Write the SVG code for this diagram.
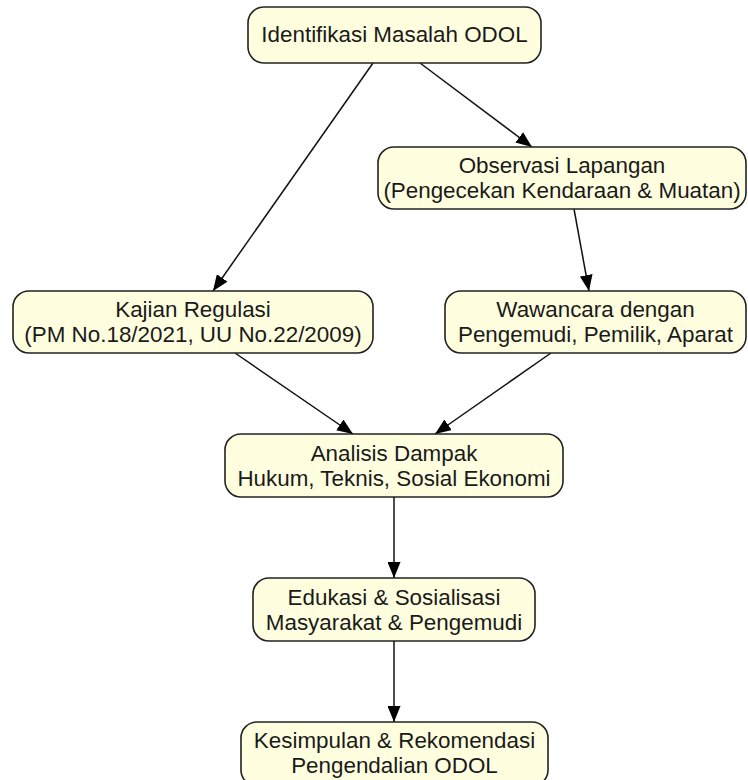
<svg xmlns="http://www.w3.org/2000/svg" width="748" height="780" viewBox="0 0 748 780">
<style>
.node rect{fill:#ffffe0;stroke:#222;stroke-width:1.6}
.node text{font-family:"Liberation Sans",Arial,sans-serif;font-size:22.4px;fill:#1a1a1a;text-anchor:middle}
.edges path{fill:none;stroke:#111;stroke-width:1.5}
</style>
<defs>
<marker id="arr" markerUnits="userSpaceOnUse" markerWidth="16" markerHeight="13" refX="16" refY="6.5" orient="auto">
<path d="M0,0 L16,6.5 L0,13 z" fill="#000"/>
</marker>
</defs>
<rect width="748" height="780" fill="#fff"/>
<g class="edges">
<path d="M373,63 L213,291" marker-end="url(#arr)"/>
<path d="M420,63 L532,147" marker-end="url(#arr)"/>
<path d="M574,209 L589,291" marker-end="url(#arr)"/>
<path d="M235,353 L353,434" marker-end="url(#arr)"/>
<path d="M551,353 L435,434" marker-end="url(#arr)"/>
<path d="M394,497 L394,578" marker-end="url(#arr)"/>
<path d="M394,641 L394,722" marker-end="url(#arr)"/>
</g>
<g id="n1" class="node"><rect x="248" y="7" width="293" height="56" rx="16"/><text x="394.5" y="42">Identifikasi Masalah ODOL</text></g>
<g id="n2" class="node"><rect x="378" y="147" width="368" height="62" rx="16"/><text x="562" y="173">Observasi Lapangan</text><text x="562" y="198">(Pengecekan Kendaraan &amp; Muatan)</text></g>
<g id="n3" class="node"><rect x="13" y="291" width="360" height="62" rx="16"/><text x="193" y="317">Kajian Regulasi</text><text x="193" y="342">(PM No.18/2021, UU No.22/2009)</text></g>
<g id="n4" class="node"><rect x="445" y="291" width="301" height="62" rx="16"/><text x="595.5" y="317">Wawancara dengan</text><text x="595.5" y="342">Pengemudi, Pemilik, Aparat</text></g>
<g id="n5" class="node"><rect x="225" y="434" width="338" height="63" rx="16"/><text x="394" y="460.5">Analisis Dampak</text><text x="394" y="485.5">Hukum, Teknis, Sosial Ekonomi</text></g>
<g id="n6" class="node"><rect x="253" y="578" width="282" height="63" rx="16"/><text x="394" y="604.5">Edukasi &amp; Sosialisasi</text><text x="394" y="629.5">Masyarakat &amp; Pengemudi</text></g>
<g id="n7" class="node"><rect x="241" y="722" width="307" height="64" rx="16"/><text x="394.5" y="748">Kesimpulan &amp; Rekomendasi</text><text x="394.5" y="773">Pengendalian ODOL</text></g>
</svg>
